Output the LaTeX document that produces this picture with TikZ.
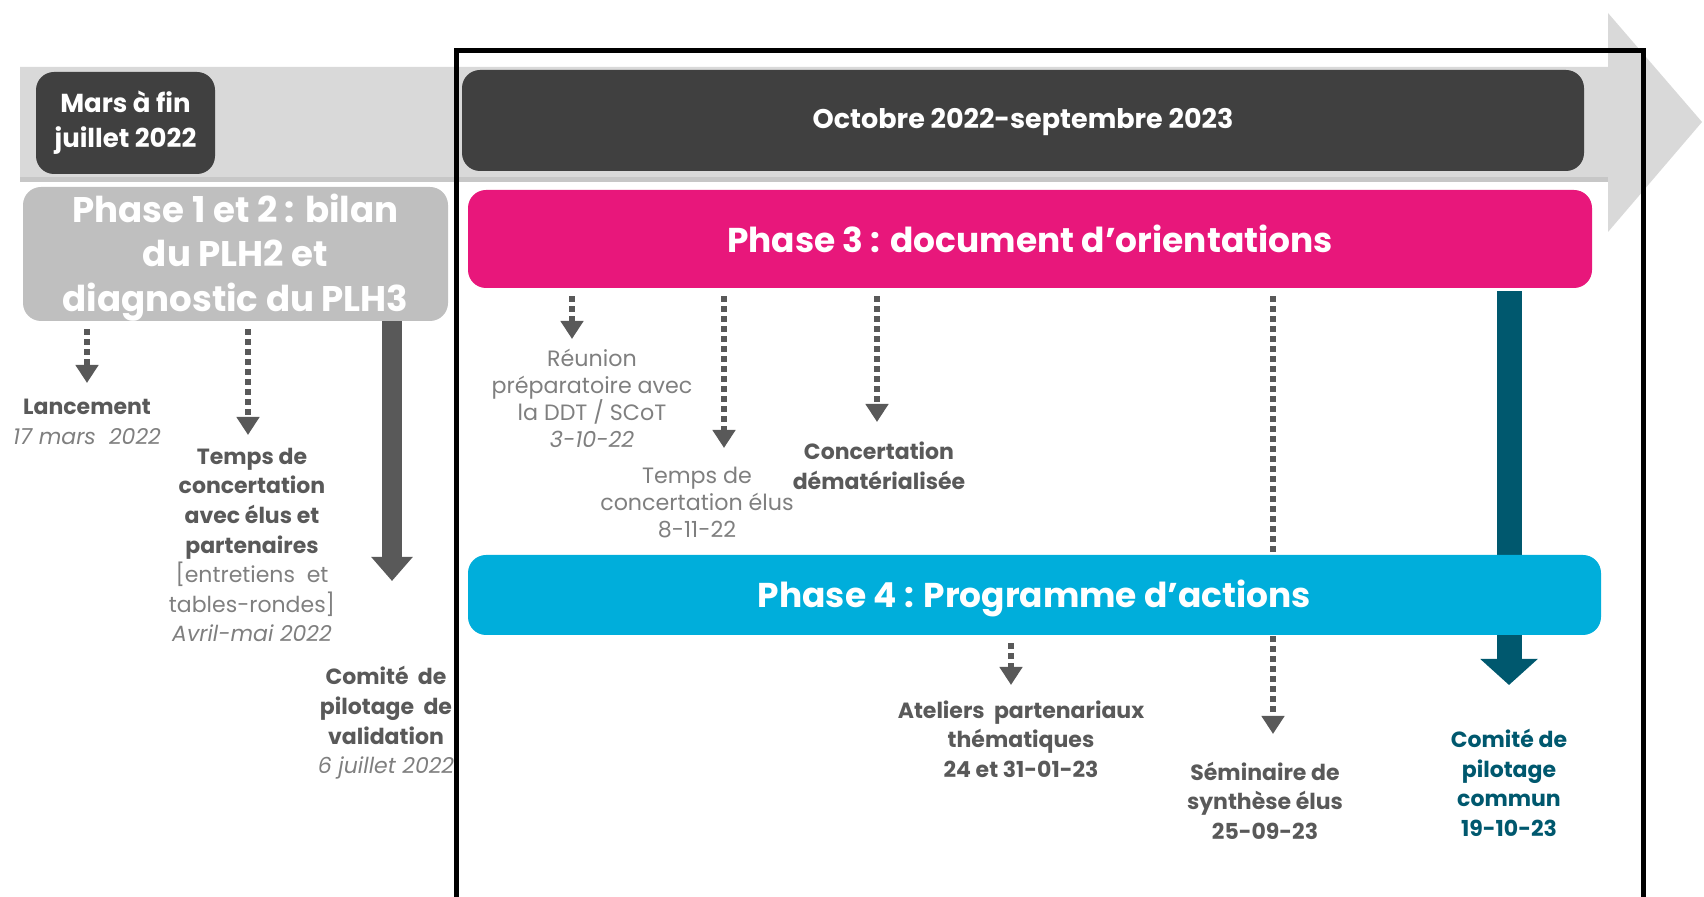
\documentclass[tikz,border=0pt]{standalone}
\usepackage{fontspec}
\setmainfont{Poppins}
\usetikzlibrary{arrows.meta}

\definecolor{bandgrey}{HTML}{D9D9D9}
\definecolor{darkbox}{HTML}{404040}
\definecolor{phasegrey}{HTML}{BFBFBF}
\definecolor{phasepink}{HTML}{E8177B}
\definecolor{phaseblue}{HTML}{00AEDB}
\definecolor{pilotteal}{HTML}{00586E}
\definecolor{arrowgrey}{HTML}{595959}
\definecolor{lightgrey}{HTML}{7F7F7F}

\newcommand{\lowered}[2]{\raisebox{-#1}[\height][\depth]{#2}}

\tikzset{
  datebox/.style={fill=darkbox, rounded corners=9pt, text=white, inner sep=0pt, align=center,
    font=\fontsize{13}{17.4}\selectfont\bfseries},
  phasebox/.style={rounded corners=9pt, text=white, inner sep=0pt, align=center,
    font=\fontsize{17.2}{21}\selectfont\bfseries},
  dotarrow/.style={draw=arrowgrey, line width=2.8pt, dash pattern=on 2.8pt off 2.2pt,
    shorten <=4pt, -{Triangle[width=11pt,length=9pt]}},
  bigarrow/.style={line width=10pt, -{Triangle[width=20pt,length=12pt]}},
  eventtext/.style={align=center, inner sep=0pt, text=arrowgrey,
    font=\fontsize{11}{14.8}\selectfont\bfseries},
  lighttext/.style={align=center, inner sep=0pt, text=lightgrey,
    font=\fontsize{11.1}{13.5}\selectfont}
}

\begin{document}
\begin{tikzpicture}[x=0.5pt,y=-0.5pt]
  \useasboundingbox (0,0) rectangle (1704,897);
  % timeline band
  \fill[black!22] (20,177) rectangle (1608,182);
  \fill[bandgrey] (20,67) -- (1608,67) -- (1608,13) -- (1702,122) -- (1608,232)
    -- (1608,177) -- (20,177) -- cycle;
  \draw[line width=2.5pt] (456,905) -- (456,51) -- (1643,51) -- (1643,905);

  \node[datebox, minimum width=89.5pt, minimum height=51pt] (mars) at (125.5,123)
    {Mars à fin\\juillet 2022};
  \node[datebox, minimum width=561pt, minimum height=50.5pt, font=\fontsize{13.5}{16}\selectfont\bfseries]
    (octobre) at (1023,120.5) {\lowered{1pt}{Octobre 2022-septembre 2023}};

  \node[phasebox, fill=phasegrey, minimum width=212.5pt, minimum height=67pt,
    font=\fontsize{17.8}{22.3}\selectfont\bfseries] (phase12)
    at (235.5,254) {\lowered{1.8pt}{\parbox{200pt}{\centering Phase 1 et 2 : bilan\\du PLH2 et\\diagnostic du PLH3}}};
  \node[phasebox, fill=phasepink, minimum width=562pt, minimum height=49pt] (phase3)
    at (1030,239) {Phase 3 : document d’orientations};

  % arrow ends
  \coordinate (lanc) at (87,383);
  \coordinate (temps) at (248,435);
  \coordinate (valid) at (392,581);
  \coordinate (reun) at (572,339);
  \coordinate (elus) at (724,448);
  \coordinate (demat) at (877,422);
  \coordinate (semin) at (1273,734);
  \coordinate (commun) at (1509,685);
  \coordinate (atel) at (1011,685);

  \draw[dotarrow] (phase12.south -| lanc) -- (lanc);
  \draw[dotarrow] (phase12.south -| temps) -- (temps);
  \draw[bigarrow, arrowgrey] (phase12.south -| valid) -- (valid);
  \draw[dotarrow] (phase3.south -| reun) -- (reun);
  \draw[dotarrow] (phase3.south -| elus) -- (elus);
  \draw[dotarrow] (phase3.south -| demat) -- (demat);
  \draw[dotarrow] (phase3.south -| semin) -- (semin);
  \draw[bigarrow, pilotteal, line width=12.5pt, -{Triangle[width=28pt,length=13pt]}]
    ([yshift=-1.5pt]phase3.south -| commun) -- (commun);

  \node[phasebox, fill=phaseblue, minimum width=566.5pt, minimum height=40pt] (phase4)
    at (1034.5,595) {\lowered{1.8pt}{Phase 4 : Programme d’actions}};
  \draw[dotarrow] (phase4.south -| atel) -- (atel);

  % labels
  \node[eventtext] (lanctxt) at (87,422)
    {Lancement\\\textcolor{lightgrey}{\mdseries\itshape 17 mars\ \ 2022}};
  \node[eventtext] (tempstxt) at (252,545)
    {Temps de\\concertation\\avec élus et\\partenaires\\
     \textcolor{lightgrey}{\mdseries [entretiens\ \ et}\\
     \textcolor{lightgrey}{\mdseries tables-rondes]}\\
     \textcolor{lightgrey}{\mdseries\itshape Avril-mai 2022}};
  \node[eventtext] (validtxt) at (386,723)
    {Comité\ \ de\\pilotage\ \ de\\validation\\\textcolor{lightgrey}{\mdseries\itshape 6 juillet 2022}};
  \node[lighttext] (reuntxt) at (592,398)
    {Réunion\\préparatoire avec\\la DDT / SCoT\\\itshape 3-10-22};
  \node[lighttext] (elustxt) at (697,503)
    {Temps de\\concertation élus\\8-11-22};
  \node[eventtext] (demattxt) at (879,465.5) {Concertation\\dématérialisée};
  \node[eventtext] (ateltxt) at (1021,739)
    {Ateliers\ \ partenariaux\\thématiques\\24 et 31-01-23};
  \node[eventtext] (semintxt) at (1265,800.5)
    {Séminaire de\\synthèse élus\\25-09-23};
  \node[eventtext, text=pilotteal] (commtxt) at (1509,783)
    {Comité de\\pilotage\\commun\\19-10-23};
\end{tikzpicture}
\end{document}
